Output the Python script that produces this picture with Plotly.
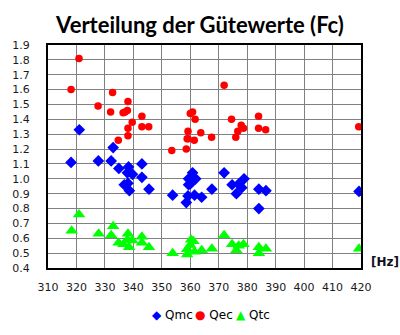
import plotly.graph_objects as go

# Data
qmc_x = [318.1, 321.0, 327.7, 332.2, 332.9, 334.9, 336.8, 337.9, 338.1, 338.3, 338.6, 339.7,
         343.0, 343.0, 345.5, 353.8, 358.6, 359.2, 359.4, 359.4, 360.0, 360.8, 361.5, 361.9,
         364.0, 367.6, 371.9, 374.7, 376.2, 377.0, 378.1, 378.9, 384.1, 384.1, 386.6, 419.3]
qmc_y = [1.11, 1.33, 1.12, 1.12, 1.21, 1.07, 0.96, 1.04, 0.97, 1.08, 0.92, 1.03,
         1.10, 1.01, 0.93, 0.89, 0.84, 0.885, 0.96, 1.00, 0.965, 1.04, 0.89, 1.00,
         0.876, 0.93, 1.04, 0.96, 0.90, 0.965, 0.94, 1.00, 0.93, 0.80, 0.92, 0.915]

qec_x = [318.1, 320.9, 327.6, 332.0, 332.7, 334.7, 336.4, 337.1, 337.9, 338.1, 338.1, 338.1,
         339.6, 343.0, 343.0, 345.4, 353.5, 358.6, 358.9, 359.2, 359.2, 360.0, 360.8, 361.4,
         361.7, 363.7, 367.5, 371.9, 374.5, 376.0, 376.7, 377.9, 378.7, 384.0, 384.0, 386.5, 419.2]
qec_y = [1.60, 1.81, 1.49, 1.45, 1.58, 1.26, 1.445, 1.45, 1.46, 1.52, 1.34, 1.29,
         1.38, 1.42, 1.35, 1.35, 1.19, 1.20, 1.27, 1.27, 1.32, 1.44, 1.45, 1.26,
         1.40, 1.31, 1.28, 1.63, 1.40, 1.28, 1.32, 1.36, 1.34, 1.42, 1.34, 1.33, 1.35]

qtc_x = [318.3, 320.9, 327.8, 332.2, 332.9, 334.8, 336.5, 337.9, 338.1, 338.5, 339.6, 343.0,
         343.0, 345.5, 353.8, 358.9, 358.9, 360.0, 360.3, 361.1, 361.5, 364.0, 367.6, 371.9,
         374.7, 376.2, 377.0, 378.7, 384.1, 384.1, 386.6, 419.3]
qtc_y = [0.65, 0.76, 0.63, 0.62, 0.68, 0.57, 0.56, 0.59, 0.63, 0.54, 0.585, 0.61,
         0.57, 0.54, 0.50, 0.526, 0.49, 0.555, 0.59, 0.58, 0.51, 0.52, 0.53, 0.62,
         0.56, 0.52, 0.55, 0.56, 0.54, 0.50, 0.53, 0.53]

series_names = ["Qmc", "Qec", "Qtc"]
series_colors = ["#0000FF", "#FF0000", "#00FF00"]
legend_glyphs = ["◆", "●", "▲"]

fig = go.Figure()
fig.add_trace(go.Scatter(x=qmc_x, y=qmc_y, mode="markers", name=series_names[0],
                         marker=dict(symbol="diamond", size=9, color=series_colors[0])))
fig.add_trace(go.Scatter(x=qec_x, y=qec_y, mode="markers", name=series_names[1],
                         marker=dict(symbol="circle", size=7.5, color=series_colors[1])))
fig.add_trace(go.Scatter(x=qtc_x, y=qtc_y, mode="markers", name=series_names[2],
                         marker=dict(symbol="triangle-up", size=11, color=series_colors[2])))

W, H = 400, 335
tickfont = dict(family="DejaVu Sans", size=11, color="#1a1a1a")

annotations = [dict(text="<b>[Hz]</b>", xref="paper", yref="paper", x=1.0, y=0.025,
                    xshift=8, xanchor="left", yanchor="middle", showarrow=False,
                    font=dict(family="DejaVu Sans", size=12, color="#101020"))]
# hand-placed legend (pixel positions of each entry's symbol)
legend_px = [148, 193, 235]
legend_y_px = 315
ml, mr, mt, mb = 38, 39, 45, 67
pw, ph = W - ml - mr, H - mt - mb
for name, color, glyph, px in zip(series_names, series_colors, legend_glyphs, legend_px):
    annotations.append(dict(
        text=f"<span style='color:{color}'>{glyph}</span> {name}",
        xref="paper", yref="paper",
        x=(px - 5 - ml) / pw, y=(H - mb - legend_y_px) / ph,
        xanchor="left", yanchor="middle", showarrow=False,
        font=dict(family="DejaVu Sans", size=12, color="black")))

fig.update_layout(
    width=W, height=H,
    margin=dict(l=ml, r=mr, t=mt, b=mb),
    paper_bgcolor="white", plot_bgcolor="white",
    title=dict(text="<b>Verteilung der Gütewerte (Fc)</b>", x=0.5, xanchor="center",
               y=1 - 25 / H, yanchor="middle",
               font=dict(family="Lato", size=22, color="black")),
    showlegend=False,
    xaxis=dict(range=[310, 420], dtick=10, tick0=310, showgrid=True, gridcolor="#808080",
               gridwidth=1, showline=True, linecolor="black", linewidth=2, mirror=True,
               ticks="", tickfont=tickfont, ticklabelstandoff=8, zeroline=False),
    yaxis=dict(range=[0.4, 1.9], dtick=0.1, tick0=0.4, tickformat=".1f", showgrid=True,
               gridcolor="#808080", gridwidth=1, showline=True, linecolor="black",
               linewidth=2, mirror=True, ticks="", tickfont=tickfont,
               ticklabelstandoff=14, zeroline=False),
    annotations=annotations,
)

fig.write_html("out.html")
